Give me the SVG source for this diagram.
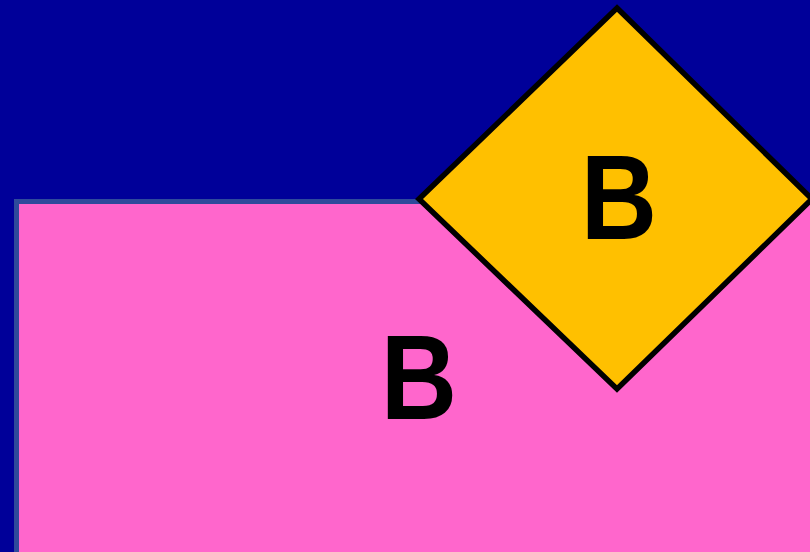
<svg xmlns="http://www.w3.org/2000/svg" width="810" height="552" viewBox="0 0 810 552">
<style>
.lbl{font-family:"Liberation Sans",Arial,sans-serif;font-weight:bold;font-size:120px;fill:#000;text-anchor:middle}
</style>
<rect x="0" y="0" width="810" height="552" fill="#000099"/>
<g id="rect-node">
<rect x="16.5" y="201.5" width="820" height="400" fill="#FF66CC" stroke="#2E4A9B" stroke-width="5"/>
<text class="lbl" transform="translate(419,419) scale(0.88,1)">B</text>
</g>
<g id="diamond-node">
<polygon points="617,8 812,199 617,389 419,199" fill="#FFC000" stroke="#000" stroke-width="5.5" stroke-linejoin="miter"/>
<text class="lbl" transform="translate(619,239) scale(0.88,1)">B</text>
</g>
<g id="connectors"></g>
</svg>
